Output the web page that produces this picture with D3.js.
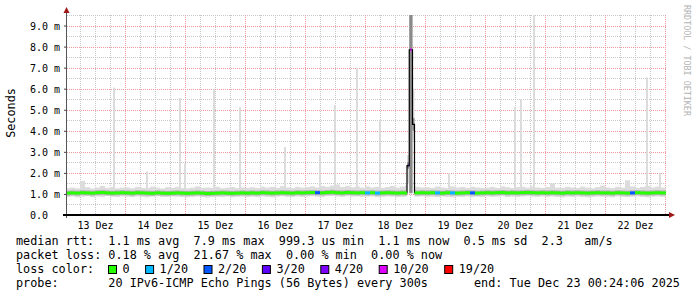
<!DOCTYPE html>
<html>
<head>
<meta charset="utf-8">
<script src="https://cdn.jsdelivr.net/npm/d3@7"></script>
<style>
  body { margin: 0; background: #fff; }
  text { font-family: "DejaVu Sans Mono", monospace; }
</style>
</head>
<body>
<svg id="chart" width="697" height="297"></svg>
<script>
// ---- data (hours since 13 Dec 00:00, 2h bins, values in ms) ----
const binHours = 2;

const median = [
  1.04,1.05,1.04,1.06,1.05,1.04,1.06,1.07,1.05,1.04,1.05,1.06,
  1.05,1.04,1.06,1.05,1.04,1.03,1.05,1.04,1.03,1.04,1.05,1.04,
  1.03,1.04,1.05,1.04,1.02,1.03,1.04,1.05,1.04,1.03,1.04,1.05,
  1.04,1.05,1.04,1.06,1.05,1.04,1.05,1.06,1.05,1.04,1.06,1.05,
  1.06,1.07,1.06,1.05,1.07,1.08,1.06,1.05,1.07,1.06,1.05,1.06,
  1.05,1.06,1.04,1.05,1.06,1.05,1.04,1.05,1.05,1.05,1.05,1.06,
  1.05,1.06,1.05,1.04,1.06,1.05,1.04,1.05,1.06,1.05,1.04,1.05,
  1.06,1.05,1.06,1.07,1.05,1.06,1.05,1.06,1.07,1.06,1.05,1.06,
  1.05,1.06,1.05,1.04,1.06,1.05,1.06,1.05,1.04,1.05,1.06,1.05,
  1.05,1.04,1.06,1.05,1.04,1.05,1.06,1.05,1.04,1.05,1.06,1.05
];

const smokeHi = [
  1.28,1.30,1.27,1.62,1.32,1.26,1.31,1.38,1.29,1.33,1.27,1.30,
  1.31,1.27,1.33,1.29,1.28,1.35,1.30,1.26,1.32,1.29,1.34,1.28,
  1.27,1.30,1.36,1.28,1.31,1.29,1.34,1.27,1.30,1.33,1.28,1.31,
  1.29,1.32,1.28,1.35,1.30,1.33,1.29,1.37,1.31,1.28,1.34,1.30,
  1.33,1.36,1.31,1.38,1.34,1.40,1.45,1.33,1.37,1.32,1.35,1.30,
  1.36,1.31,1.34,1.29,1.33,1.38,1.30,1.35,1.42,1.40,1.34,1.31,
  1.32,1.29,1.35,1.31,1.28,1.36,1.30,1.33,1.29,1.34,1.31,1.28,
  1.30,1.34,1.29,1.36,1.32,1.28,1.33,1.35,1.30,1.37,1.31,1.29,
  1.33,1.50,1.30,1.28,1.34,1.31,1.29,1.35,1.30,1.27,1.33,1.40,
  1.31,1.28,1.34,1.30,1.65,1.36,1.29,1.33,1.38,1.31,1.35,1.30
];

const smokeLo = [
  0.86,0.88,0.84,0.87,0.89,0.85,0.88,0.86,0.90,0.87,0.85,0.88,
  0.87,0.85,0.88,0.86,0.84,0.87,0.89,0.85,0.86,0.88,0.87,0.85,
  0.84,0.86,0.88,0.85,0.83,0.86,0.87,0.85,0.88,0.84,0.86,0.87,
  0.86,0.87,0.85,0.88,0.86,0.84,0.87,0.89,0.86,0.85,0.88,0.86,
  0.88,0.89,0.87,0.86,0.89,0.90,0.88,0.86,0.89,0.87,0.88,0.86,
  0.87,0.88,0.85,0.86,0.88,0.87,0.85,0.86,0.88,0.86,0.87,0.88,
  0.86,0.87,0.85,0.88,0.86,0.84,0.87,0.86,0.88,0.85,0.87,0.86,
  0.88,0.86,0.87,0.89,0.85,0.87,0.86,0.88,0.89,0.87,0.86,0.88,
  0.86,0.88,0.85,0.84,0.87,0.86,0.88,0.85,0.84,0.86,0.88,0.87,
  0.86,0.84,0.88,0.86,0.85,0.87,0.88,0.86,0.84,0.87,0.88,0.86
];

// bins with lost pings (out of 20)
const lossBins = [50, 60, 62, 74, 77, 81, 113];
const lossCounts = [2, 1, 1, 1, 1, 2, 2];

// outage on 18 Dec, finer steps
const eventStart = [136.8, 137.7, 139.0];
const eventEnd = 139.8;
const eventMedian = [2.35, 7.85, 4.3];
const eventLoss = [3, 10, 1];
const eventSmokeLo = [1.5, 1.0, 3.55];
const eventSmokeHi = [2.85, 9.6, 6.0];
const eventDenseLo = [2.2, 1.05, 4.0];
const eventDenseHi = [2.5, 9.6, 4.6];

// single slow pings
const spikeHours = [19.2, 32.4, 45.6, 47.6, 59.2, 69.6, 87.6, 101.6, 107.6, 116.4,
                    125.6, 153.2, 179.6, 182.0, 187.2, 232.4, 237.6];
const spikeValues = [6.05, 2.06, 5.56, 2.45, 5.99, 5.14, 3.23, 2.85, 5.23, 6.97,
                     4.51, 1.98, 5.14, 5.51, 9.6, 6.54, 1.98];

const yTicks = [0, 1, 2, 3, 4, 5, 6, 7, 8, 9];
const lossLabels = ["0", "1/20", "2/20", "3/20", "4/20", "10/20", "19/20"];
const lossLevels = [0, 1, 2, 3, 4, 10, 19];
const lossColors = ["#26ff00", "#00b8ff", "#0059ff", "#5e00ff", "#7e00ff", "#dd00ff", "#ff0000"];

const legendLines = [
  "median rtt:  1.1 ms avg  7.9 ms max  999.3 us min  1.1 ms now  0.5 ms sd  2.3   am/s",
  "packet loss: 0.18 % avg  21.67 % max  0.00 % min  0.00 % now"
];
const probeText = "probe:       20 IPv6-ICMP Echo Pings (56 Bytes) every 300s";
const endText = "end: Tue Dec 23 00:24:06 2025";

// ---- scales ----
const T0 = Date.UTC(2025, 11, 13);
const hourDate = h => new Date(T0 + h * 3600e3);
const x = d3.scaleUtc()
  .domain([hourDate(0.4), hourDate(240.4)])
  .range([66, 666]);
const y = d3.scaleLinear().domain([0, 9.5]).range([215, 15]);

const svg = d3.select("#chart");
svg.append("rect").attr("width", 697).attr("height", 297).attr("fill", "#fff");

svg.append("defs").append("clipPath").attr("id", "plot")
  .append("rect").attr("x", 66).attr("y", 15).attr("width", 600).attr("height", 200);

// grid
const grid = svg.append("g");
const minorY = d3.range(0.5, 9.6, 1);
grid.selectAll(".hmin").data(minorY).enter().append("line")
  .attr("x1", 67).attr("x2", 666)
  .attr("y1", d => Math.round(y(d)) + 0.5).attr("y2", d => Math.round(y(d)) + 0.5)
  .attr("stroke", "#c8c8c8").attr("stroke-dasharray", "1,1");
const sixHours = d3.utcHour.every(6).range(hourDate(0.4), hourDate(240.5))
  .filter(d => d.getUTCHours() !== 0);
grid.selectAll(".vmin").data(sixHours).enter().append("line")
  .attr("x1", d => Math.round(x(d)) + 0.5).attr("x2", d => Math.round(x(d)) + 0.5)
  .attr("y1", 15).attr("y2", 215)
  .attr("stroke", "#c8c8c8").attr("stroke-dasharray", "1,1");
grid.selectAll(".hmaj").data(yTicks.slice(1)).enter().append("line")
  .attr("x1", 67).attr("x2", 666)
  .attr("y1", d => Math.round(y(d)) + 0.5).attr("y2", d => Math.round(y(d)) + 0.5)
  .attr("stroke", "#ee9a9a").attr("stroke-dasharray", "1,1");
const days = d3.utcDay.range(hourDate(0.4), hourDate(240.5));
grid.selectAll(".vmaj").data(days).enter().append("line")
  .attr("x1", d => Math.round(x(d)) + 0.5).attr("x2", d => Math.round(x(d)) + 0.5)
  .attr("y1", 15).attr("y2", 215)
  .attr("stroke", "#ee9a9a").attr("stroke-dasharray", "1,1");

// build segments from bins, cutting out the outage window
let segs = [];
median.forEach((m, i) => {
  let t0 = i * binHours, t1 = t0 + binHours;
  if (i === median.length - 1) t1 = 240.4;
  const k = lossBins.indexOf(i);
  const s = { median: m, lo: smokeLo[i], hi: smokeHi[i], loss: k >= 0 ? lossCounts[k] : 0 };
  if (t1 <= eventStart[0] || t0 >= eventEnd) segs.push({ ...s, t0, t1 });
  else {
    if (t0 < eventStart[0]) segs.push({ ...s, t0, t1: eventStart[0] });
    if (t1 > eventEnd) segs.push({ ...s, t0: eventEnd, t1 });
  }
});
eventStart.forEach((t, i) => {
  segs.push({
    t0: t, t1: i < eventStart.length - 1 ? eventStart[i + 1] : eventEnd,
    median: eventMedian[i], lo: eventSmokeLo[i], hi: eventSmokeHi[i],
    dLo: eventDenseLo[i], dHi: eventDenseHi[i], loss: eventLoss[i]
  });
});
segs.sort((a, b) => a.t0 - b.t0);

const lossColor = n => {
  let c = lossColors[0];
  lossLevels.forEach((l, i) => { if (n >= l) c = lossColors[i]; });
  return c;
};

const plot = svg.append("g").attr("clip-path", "url(#plot)");

// spikes
plot.selectAll(".spike").data(spikeHours).enter().append("rect")
  .attr("x", d => x(hourDate(d)))
  .attr("width", 2)
  .attr("y", (d, i) => y(spikeValues[i]))
  .attr("height", (d, i) => y(1.0) - y(spikeValues[i]))
  .attr("fill", "#dcdcdc");

// smoke
plot.selectAll(".smoke").data(segs).enter().append("rect")
  .attr("x", d => x(hourDate(d.t0)))
  .attr("width", d => x(hourDate(d.t1)) - x(hourDate(d.t0)))
  .attr("y", d => y(d.hi))
  .attr("height", d => y(d.lo) - y(d.hi))
  .attr("fill", "#dcdcdc");

plot.selectAll(".dense").data(segs.filter(d => d.dLo !== undefined)).enter().append("rect")
  .attr("x", d => x(hourDate(d.t0)))
  .attr("width", d => x(hourDate(d.t1)) - x(hourDate(d.t0)))
  .attr("y", d => y(d.dHi))
  .attr("height", d => y(d.dLo) - y(d.dHi))
  .attr("fill", "#8a8a8a");

// median casing + step line
const flat = segs.filter(d => d.dLo === undefined);
plot.selectAll(".casing").data(flat).enter().append("line")
  .attr("x1", d => x(hourDate(d.t0))).attr("x2", d => x(hourDate(d.t1)))
  .attr("y1", d => y(d.median)).attr("y2", d => y(d.median))
  .attr("stroke", "#b4b4b4").attr("stroke-width", 5);

const stepPts = [];
segs.forEach(d => {
  stepPts.push([x(hourDate(d.t0)), y(d.median)]);
  stepPts.push([x(hourDate(d.t1)), y(d.median)]);
});
plot.append("path").attr("d", d3.line()(stepPts))
  .attr("fill", "none").attr("stroke", "#000").attr("stroke-width", 1.2);

plot.selectAll(".med").data(segs).enter().append("line")
  .attr("x1", d => x(hourDate(d.t0)) + (d.dLo !== undefined || d.loss > 2 ? 1 : 0))
  .attr("x2", d => x(hourDate(d.t1)) - (d.dLo !== undefined || d.loss > 2 ? 1 : 0))
  .attr("y1", d => y(d.median)).attr("y2", d => y(d.median))
  .attr("stroke", d => lossColor(d.loss)).attr("stroke-width", 3);

// axes
const yAxis = svg.append("g").attr("transform", "translate(67,0)")
  .call(d3.axisLeft(y).tickValues(yTicks).tickSize(3).tickPadding(4)
    .tickFormat(d => d === 0 ? "0.0" : d.toFixed(1) + " m"));
yAxis.select(".domain").remove();
yAxis.selectAll("line").attr("stroke", "#444");
yAxis.selectAll("text").attr("text-anchor", "start").attr("x", -37)
  .attr("dy", "0.35em").attr("font-size", 10).attr("fill", "#000")
  .style("font-family", "DejaVu Sans Mono");

const noons = days.map(d => d3.utcHour.offset(d, 12)).filter(d => x(d) < 666);
noons.unshift(hourDate(12));
const xAxis = svg.append("g").attr("transform", "translate(0,215)")
  .call(d3.axisBottom(x).tickValues(noons).tickSize(0).tickPadding(6.4)
    .tickFormat(d => d.getUTCDate() + " Dez"));
xAxis.select(".domain").remove();
xAxis.selectAll("text").attr("font-size", 10).attr("fill", "#000")
  .style("font-family", "DejaVu Sans Mono");

svg.append("line").attr("x1", 66.5).attr("x2", 66.5).attr("y1", 218).attr("y2", 12)
  .attr("stroke", "#555");
svg.append("line").attr("x1", 63).attr("x2", 670).attr("y1", 215).attr("y2", 215)
  .attr("stroke", "#000").attr("stroke-width", 2);
svg.append("path").attr("d", "M63.5,13 L69.5,13 L66.5,7 Z").attr("fill", "#a01818");
svg.append("path").attr("d", "M669,212 L669,218 L675,215 Z").attr("fill", "#a01818");

// axis title
svg.append("text").attr("transform", "translate(15,113) rotate(-90)")
  .attr("text-anchor", "middle").attr("font-size", 11.8).text("Seconds");

// watermark
svg.append("text").attr("transform", "translate(684,5) rotate(90)")
  .attr("font-size", 8.4).attr("fill", "#b4b4b4").text("RRDTOOL / TOBI OETIKER");

// legend
const legend = svg.append("g").attr("font-size", 11.8).attr("fill", "#000");
legendLines.forEach((l, i) => {
  legend.append("text").attr("x", 16).attr("y", 245 + i * 14)
    .attr("xml:space", "preserve").style("white-space", "pre").text(l);
});
legend.append("text").attr("x", 16).attr("y", 273).text("loss color:");
let bx = 108;
lossLabels.forEach((lab, i) => {
  legend.append("rect").attr("x", bx + 0.5).attr("y", 265.5).attr("width", 8).attr("height", 8)
    .attr("fill", lossColors[i]).attr("stroke", "#000");
  legend.append("text").attr("x", bx + 14.5).attr("y", 273).text(lab);
  bx = bx + 14.5 + lab.length * 7.1 + 15.5;
});
legend.append("text").attr("x", 16).attr("y", 287)
  .attr("xml:space", "preserve").style("white-space", "pre").text(probeText);
legend.append("text").attr("x", 474).attr("y", 287)
  .attr("xml:space", "preserve").style("white-space", "pre").text(endText);
</script>
</body>
</html>
